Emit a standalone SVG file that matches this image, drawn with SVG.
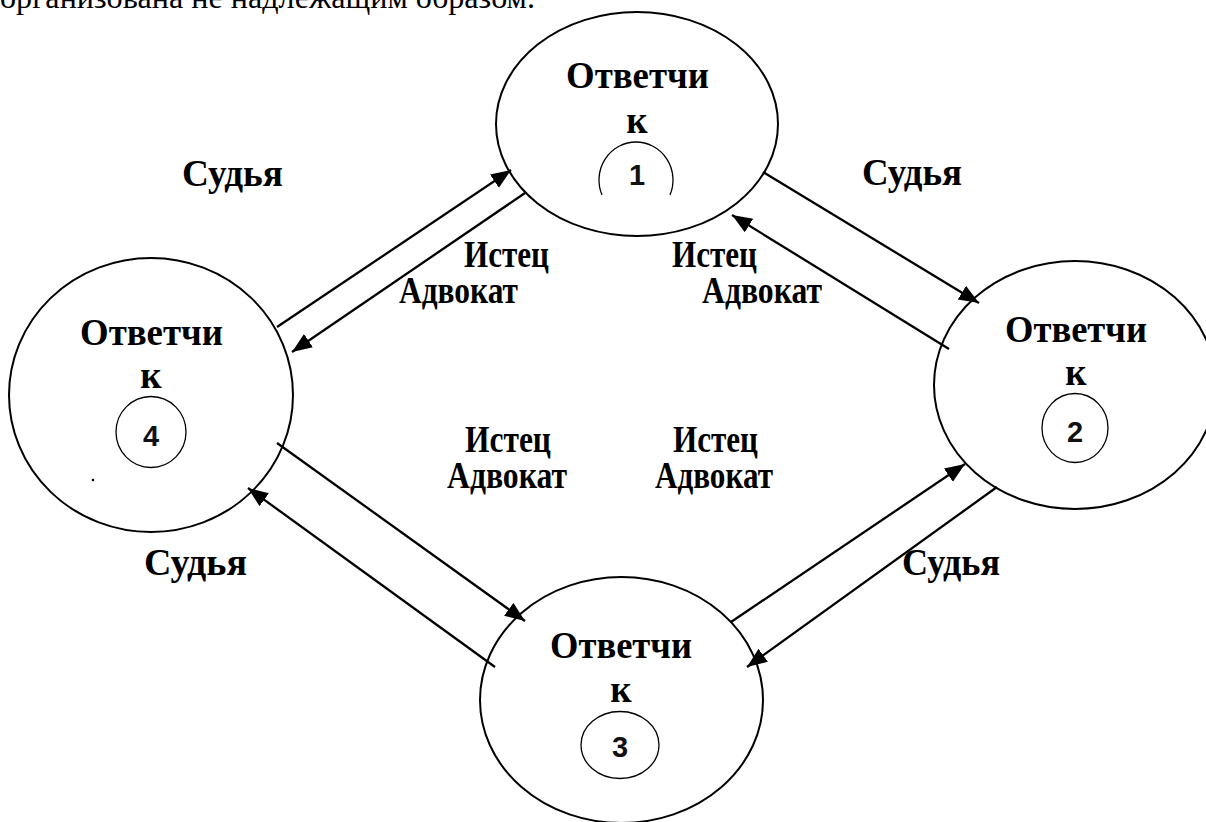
<svg xmlns="http://www.w3.org/2000/svg" width="1206" height="822" viewBox="0 0 1206 822">
<style>
.big{fill:none;stroke:#000;stroke-width:2}
.small{fill:none;stroke:#000;stroke-width:1.3}
.lbl{font-family:"Liberation Serif","Times New Roman",serif;font-weight:bold;font-size:37px;fill:#000}
.num{font-family:"Liberation Sans",Arial,sans-serif;font-weight:bold;font-size:29px;fill:#111;text-anchor:middle}
.hdr{font-family:"Liberation Serif","Times New Roman",serif;font-size:32px;fill:#000}
.con{stroke:#000;stroke-width:2.3;fill:none;marker-end:url(#ah)}
</style>
<defs>
<marker id="ah" markerUnits="userSpaceOnUse" markerWidth="22" markerHeight="18" refX="20" refY="8" orient="auto">
<path d="M0,0 L20,8 L0,16 z" fill="#000"/>
</marker>
</defs>
<rect width="1206" height="822" fill="#fff"/>
<text class="hdr" x="0" y="8" textLength="535" lengthAdjust="spacingAndGlyphs">организована не надлежащим образом.</text>

<g id="node1">
<ellipse class="big" cx="637" cy="124" rx="141" ry="112"/>
<text class="lbl" x="566" y="88" textLength="143" lengthAdjust="spacingAndGlyphs">Ответчи</text>
<text class="lbl" x="637" y="133" text-anchor="middle">к</text>
<path class="small" d="M602,195 A37 38 0 1 1 670,195"/>
<text class="num" x="637" y="185">1</text>
</g>

<g id="node2">
<ellipse class="big" cx="1075" cy="385" rx="141" ry="124"/>
<text class="lbl" x="1005" y="342" textLength="142" lengthAdjust="spacingAndGlyphs">Ответчи</text>
<text class="lbl" x="1076" y="385" text-anchor="middle">к</text>
<ellipse class="small" cx="1075" cy="428" rx="33" ry="34.5"/>
<text class="num" x="1075" y="442">2</text>
</g>

<g id="node3">
<ellipse class="big" cx="621.5" cy="700" rx="141.5" ry="123"/>
<text class="lbl" x="550" y="658" textLength="142" lengthAdjust="spacingAndGlyphs">Ответчи</text>
<text class="lbl" x="621" y="702" text-anchor="middle">к</text>
<ellipse class="small" cx="620" cy="745" rx="39" ry="33.5"/>
<text class="num" x="620" y="757">3</text>
</g>

<g id="node4">
<ellipse class="big" cx="151" cy="395" rx="142" ry="137"/>
<text class="lbl" x="80" y="345" textLength="143" lengthAdjust="spacingAndGlyphs">Ответчи</text>
<text class="lbl" x="151" y="388" text-anchor="middle">к</text>
<ellipse class="small" cx="151" cy="432" rx="35" ry="35.5"/>
<text class="num" x="151" y="446">4</text>
<circle cx="93" cy="480" r="1.3" fill="#000"/>
</g>

<g id="connectors">
<line class="con" x1="277" y1="327" x2="511" y2="170"/>
<line class="con" x1="525" y1="193" x2="292" y2="352"/>
<line class="con" x1="763" y1="172" x2="979" y2="303"/>
<line class="con" x1="949" y1="349" x2="732" y2="215"/>
<line class="con" x1="731" y1="622" x2="965" y2="464"/>
<line class="con" x1="997" y1="487" x2="747" y2="667"/>
<line class="con" x1="277" y1="443" x2="525" y2="621"/>
<line class="con" x1="495" y1="667" x2="248" y2="488"/>
</g>

<g id="labels">
<text class="lbl" x="182" y="186" textLength="101" lengthAdjust="spacingAndGlyphs">Судья</text>
<text class="lbl" x="862" y="185" textLength="100" lengthAdjust="spacingAndGlyphs">Судья</text>
<text class="lbl" x="144" y="575" textLength="103" lengthAdjust="spacingAndGlyphs">Судья</text>
<text class="lbl" x="902" y="575" textLength="98" lengthAdjust="spacingAndGlyphs">Судья</text>
<text class="lbl" x="464" y="267" textLength="85" lengthAdjust="spacingAndGlyphs">Истец</text>
<text class="lbl" x="399" y="303" textLength="119" lengthAdjust="spacingAndGlyphs">Адвокат</text>
<text class="lbl" x="672" y="267" textLength="85" lengthAdjust="spacingAndGlyphs">Истец</text>
<text class="lbl" x="702" y="303" textLength="120" lengthAdjust="spacingAndGlyphs">Адвокат</text>
<text class="lbl" x="465" y="452" textLength="86" lengthAdjust="spacingAndGlyphs">Истец</text>
<text class="lbl" x="447" y="488" textLength="120" lengthAdjust="spacingAndGlyphs">Адвокат</text>
<text class="lbl" x="673" y="452" textLength="85" lengthAdjust="spacingAndGlyphs">Истец</text>
<text class="lbl" x="655" y="488" textLength="118" lengthAdjust="spacingAndGlyphs">Адвокат</text>
</g>
</svg>
